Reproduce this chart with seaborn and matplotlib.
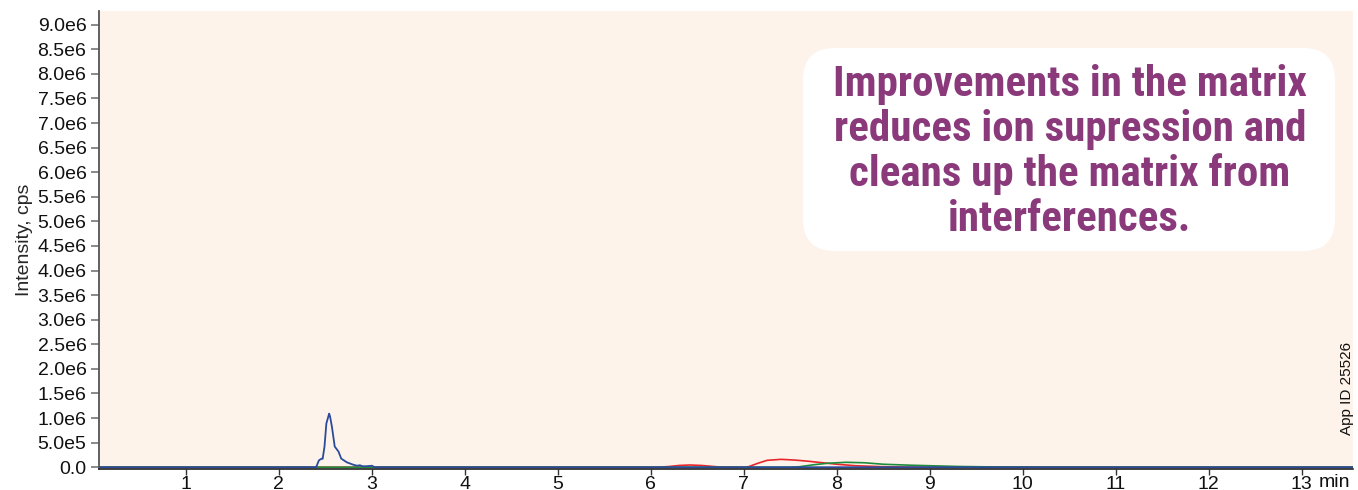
import numpy as np
import pandas as pd
import matplotlib
matplotlib.use('Agg')
import matplotlib.pyplot as plt
from matplotlib.patches import FancyBboxPatch
import seaborn as sns

# 데이터
blue_t = [0.0, 2.40, 2.43, 2.46, 2.47, 2.49, 2.51, 2.54, 2.55, 2.57, 2.60, 2.64, 2.67,
          2.73, 2.80, 2.84, 2.87, 2.90, 2.94, 3.00, 3.03, 13.6]
blue_y = [0, 0, 1.4e5, 1.75e5, 1.7e5, 4.2e5, 8.9e5, 1.09e6, 1.03e6, 8.2e5, 4.2e5, 3.2e5, 1.75e5,
          1.0e5, 5e4, 3e4, 4e4, 2e4, 2e4, 3e4, 0, 0]

red_t = [0.0, 6.10, 6.20, 6.30, 6.42, 6.55, 6.70, 6.80, 7.00, 7.05, 7.15, 7.25, 7.40,
         7.55, 7.70, 7.85, 8.00, 8.20, 8.50, 8.80, 13.6]
red_y = [0, 0, 1.5e4, 3.5e4, 4.5e4, 3.5e4, 1e4, 0, 0, 1e4, 8e4, 1.4e5, 1.6e5,
         1.45e5, 1.2e5, 9e4, 6e4, 3e4, 1e4, 0, 0]

green_t = [0.0, 7.50, 7.60, 7.75, 7.90, 8.10, 8.30, 8.50, 8.80, 9.00, 9.30, 9.70, 10.2, 13.6]
green_y = [0, 0, 1e4, 5e4, 8e4, 1e5, 9e4, 6e4, 4e4, 3e4, 1.5e4, 5e3, 0, 0]

xtick_vals = list(range(1, 14))
xtick_labels = [str(v) for v in xtick_vals]
ytick_vals = [i * 0.5e6 for i in range(19)]
ytick_labels = ['0.0', '5.0e5'] + [f'{v / 1e6:.1f}e6' for v in ytick_vals[2:]]

note_text = ('Improvements in the matrix\nreduces ion supression and\n'
             'cleans up the matrix from\ninterferences.')

# 설정
sns.set_style('white')
plt.rcParams['font.family'] = ['Liberation Sans', 'DejaVu Sans']

fig = plt.figure(figsize=(13.58, 4.9), dpi=100)
ax = fig.add_axes([0.0729, 0.0435, 0.9234, 0.9341])
ax.set_facecolor('#fdf3ea')

df_red = pd.DataFrame({'t': red_t, 'y': red_y})
df_green = pd.DataFrame({'t': green_t, 'y': green_y})
df_blue = pd.DataFrame({'t': blue_t, 'y': blue_y})

sns.lineplot(data=df_red, x='t', y='y', color='#e8262a', lw=1.2, ax=ax)
sns.lineplot(data=df_green, x='t', y='y', color='#1e8a3c', lw=1.2, ax=ax)
sns.lineplot(data=df_blue, x='t', y='y', color='#2a4b9b', lw=1.3, ax=ax)

ax.set_xlim(0.065, 13.55)
ax.set_ylim(-0.03e6, 9.28e6)
ax.set_xticks(xtick_vals)
ax.set_xticklabels(xtick_labels)
ax.set_yticks(ytick_vals)
ax.set_yticklabels(ytick_labels)
ax.set_xlabel('')
ax.set_ylabel('Intensity, cps', fontsize=14, labelpad=3)

ax.tick_params(axis='y', left=True, length=6, width=1.2, color='#777777',
               labelsize=14, pad=3, labelcolor='#111111')
ax.tick_params(axis='x', bottom=True, length=4, width=1.0, color='#333333',
               labelsize=14, pad=1, labelcolor='#111111')

for s in ['top', 'right']:
    ax.spines[s].set_visible(False)
ax.spines['left'].set_color('#555555')
ax.spines['left'].set_linewidth(1.3)
ax.spines['bottom'].set_color('#222222')
ax.spines['bottom'].set_linewidth(1.2)

# "min" 단위
fig.text(1319 / 1358, 0.006, 'min', fontsize=14, color='#111111', va='baseline', ha='left')

# App ID
fig.text(1347 / 1358, 1 - 388 / 490, 'App ID 25526', fontsize=11, rotation=90,
         ha='center', va='center', color='#111111')

# 둥근 흰색 상자 + 설명
box = FancyBboxPatch((8.03, 2.39), 5.32, 2.03,
                     boxstyle='round,pad=0,rounding_size=0.32',
                     transform=fig.dpi_scale_trans, facecolor='white', edgecolor='none')
fig.add_artist(box)
fig.text(1070 / 1358, 1 - 152 / 490, note_text, fontsize=31, fontweight='bold',
         family=['Roboto Condensed', 'Roboto', 'Liberation Sans', 'DejaVu Sans'],
         color='#8a3a7b', ha='center', va='center', linespacing=1.11, multialignment='center')

plt.savefig('out.png', dpi=100)
